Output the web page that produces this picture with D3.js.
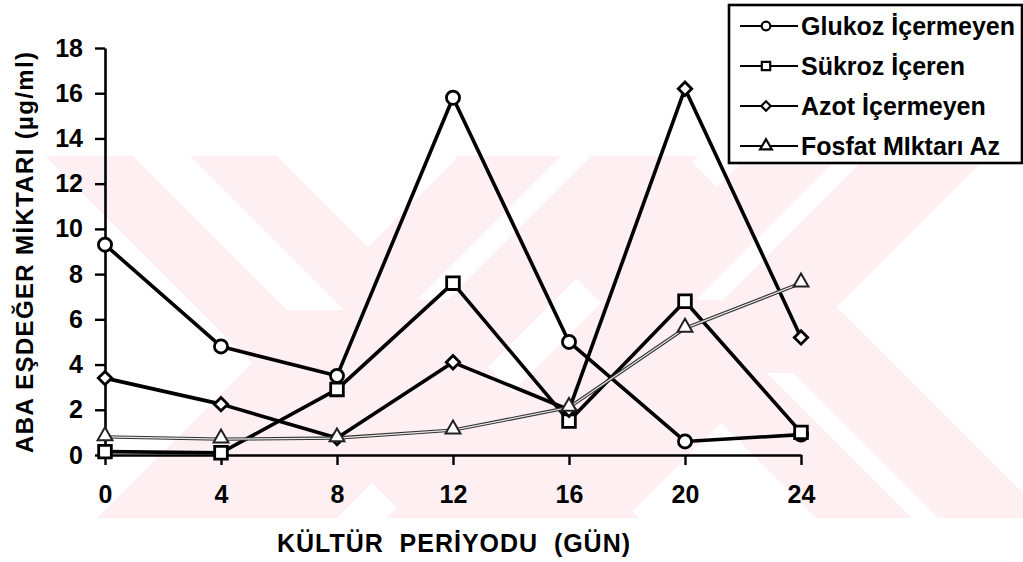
<!DOCTYPE html>
<html><head><meta charset="utf-8">
<script src="https://cdn.jsdelivr.net/npm/d3@7"></script>
<style>
body{margin:0;background:#fff}
svg{display:block}
text{font-family:"Liberation Sans",Arial,sans-serif;font-weight:bold;fill:#000}
</style>
</head><body>
<svg id="chart" width="1023" height="562"></svg>
<script>
// ---- data ----
const days = [0, 4, 8, 12, 16, 20, 24];
const glukoz = [9.3, 4.8, 3.5, 15.8, 5.0, 0.6, 0.9];
const sukroz = [0.15, 0.1, 2.9, 7.6, 1.5, 6.8, 1.0];
const azot = [3.4, 2.25, 0.75, 4.1, 2.0, 16.2, 5.2];
const fosfat = [0.8, 0.7, 0.75, 1.1, 2.1, 5.6, 7.6];
const seriesNames = ["Glukoz İçermeyen", "Sükroz İçeren", "Azot İçermeyen", "Fosfat MIktarı Az"];
const yTicks = [0, 2, 4, 6, 8, 10, 12, 14, 16, 18];
const xTitle = "KÜLTÜR  PERİYODU  (GÜN)";
const yTitle = "ABA EŞDEĞER MİKTARI (µg/ml)";

// background watermark bands (decoration): diagonal bands, offsets c = x - y ("\") or x + y ("/")
const wmBack = [["\\", -111, 121], ["/", 615, 855], ["/", 904, 1144], ["\\", 298, 530]];
const wmGaps = [["\\", -23, 34, 156, 310], ["/", 717, 747, 156, 300], ["/", 996, 1023, 156, 300], ["\\", 394, 420, 373, 518]];

const svg = d3.select("#chart");
const W = 1023, H = 562;
const x = d3.scaleLinear().domain([0, 24]).range([105, 801]);
const y = d3.scaleLinear().domain([0, 18]).range([455, 48]);

// ---- watermark ----
const wmTop = 156, wmBot = 518;
svg.append("defs").append("clipPath").attr("id", "wmclip")
  .append("rect").attr("x", 0).attr("y", wmTop).attr("width", W).attr("height", wmBot - wmTop);
const wm = svg.append("g").attr("clip-path", "url(#wmclip)");
function band(dir, a, b, y0, y1) {
  const px = (c, yy) => dir === "\\" ? c + yy : c - yy;
  return [[px(a, y0), y0], [px(b, y0), y0], [px(b, y1), y1], [px(a, y1), y1]];
}
wm.selectAll("polygon.b").data(wmBack).join("polygon").attr("class", "b")
  .attr("points", d => band(d[0], d[1], d[2], wmTop, wmBot).join(" "))
  .attr("fill", "#fdeff2");
wm.selectAll("polygon.g").data(wmGaps).join("polygon").attr("class", "g")
  .attr("points", d => band(d[0], d[1], d[2], d[3], d[4]).join(" "))
  .attr("fill", "#ffffff");

// ---- axes ----
const yAxis = svg.append("g").attr("transform", `translate(${x(0)},0)`)
  .call(d3.axisLeft(y).tickValues(yTicks).tickSize(10).tickPadding(12).tickSizeOuter(0));
const xAxis = svg.append("g").attr("transform", `translate(0,${y(0)})`)
  .call(d3.axisBottom(x).tickValues(days).tickSize(10).tickPadding(20).tickSizeOuter(0));
[yAxis, xAxis].forEach(g => {
  g.attr("font-family", null).attr("font-size", null);
  g.select(".domain").attr("stroke", "#000").attr("stroke-width", 2.6);
  g.selectAll(".tick line").attr("stroke", "#000").attr("stroke-width", 2.4);
  g.selectAll(".tick text").style("font-size", "25px").attr("fill", "#000");
});

// ---- titles ----
svg.append("text").attr("x", 277).attr("y", 552)
  .attr("textLength", 353).attr("lengthAdjust", "spacing")
  .style("font-size", "25px").style("white-space", "pre").text(xTitle);
svg.append("text").attr("transform", "translate(33,252.5) rotate(-90)")
  .attr("text-anchor", "middle").attr("textLength", 401).attr("lengthAdjust", "spacing")
  .style("font-size", "24px").text(yTitle);

// ---- series ----
const allSeries = [glukoz, sukroz, azot, fosfat];
const symbols = [d3.symbolCircle, d3.symbolSquare, d3.symbolSquare, d3.symbolTriangle];
const symRot = [0, 0, 45, 0];
const symSizes = [135, 160, 90, 95];
const line = d3.line().x(d => x(d[0])).y(d => y(d[1]));

allSeries.forEach((vals, i) => {
  const pts = days.map((d, j) => [d, vals[j]]);
  const g = svg.append("g");
  if (i === 3) {
    g.append("path").attr("d", line(pts)).attr("fill", "none").attr("stroke", "#333").attr("stroke-width", 3.4);
    g.append("path").attr("d", line(pts)).attr("fill", "none").attr("stroke", "#e8e8e8").attr("stroke-width", 1.2);
  } else {
    g.append("path").attr("d", line(pts)).attr("fill", "none").attr("stroke", "#000")
      .attr("stroke-width", 3.6).attr("stroke-linejoin", "round");
  }
  g.selectAll("path.m").data(pts).join("path").attr("class", "m")
    .attr("transform", d => `translate(${x(d[0])},${y(d[1]) + (i === 3 ? -1 : 0)}) rotate(${symRot[i]})`)
    .attr("d", d3.symbol().type(symbols[i]).size(symSizes[i]))
    .attr("fill", "#fff").attr("stroke", i === 3 ? "#222" : "#000").attr("stroke-width", i === 3 ? 2 : 2.8);
});

// ---- legend ----
const leg = svg.append("g");
leg.append("rect").attr("x", 729).attr("y", 5).attr("width", 293).attr("height", 158)
  .attr("fill", "#fff").attr("stroke", "#000").attr("stroke-width", 2.6);
const legRowY = d3.scalePoint().domain(seriesNames).range([26, 146]);
const legSym = [60, 70, 45, 60];
seriesNames.forEach((name, i) => {
  const cy = legRowY(name);
  leg.append("line").attr("x1", 740).attr("x2", 798).attr("y1", cy).attr("y2", cy)
    .attr("stroke", "#000").attr("stroke-width", 1.8);
  leg.append("path").attr("transform", `translate(766,${cy}) rotate(${symRot[i]})`)
    .attr("d", d3.symbol().type(symbols[i]).size(legSym[i]))
    .attr("fill", "#fff").attr("stroke", "#000").attr("stroke-width", 2.2);
  leg.append("text").attr("x", 801).attr("y", cy + 9).style("font-size", "25px").text(name);
});
</script>
</body></html>
